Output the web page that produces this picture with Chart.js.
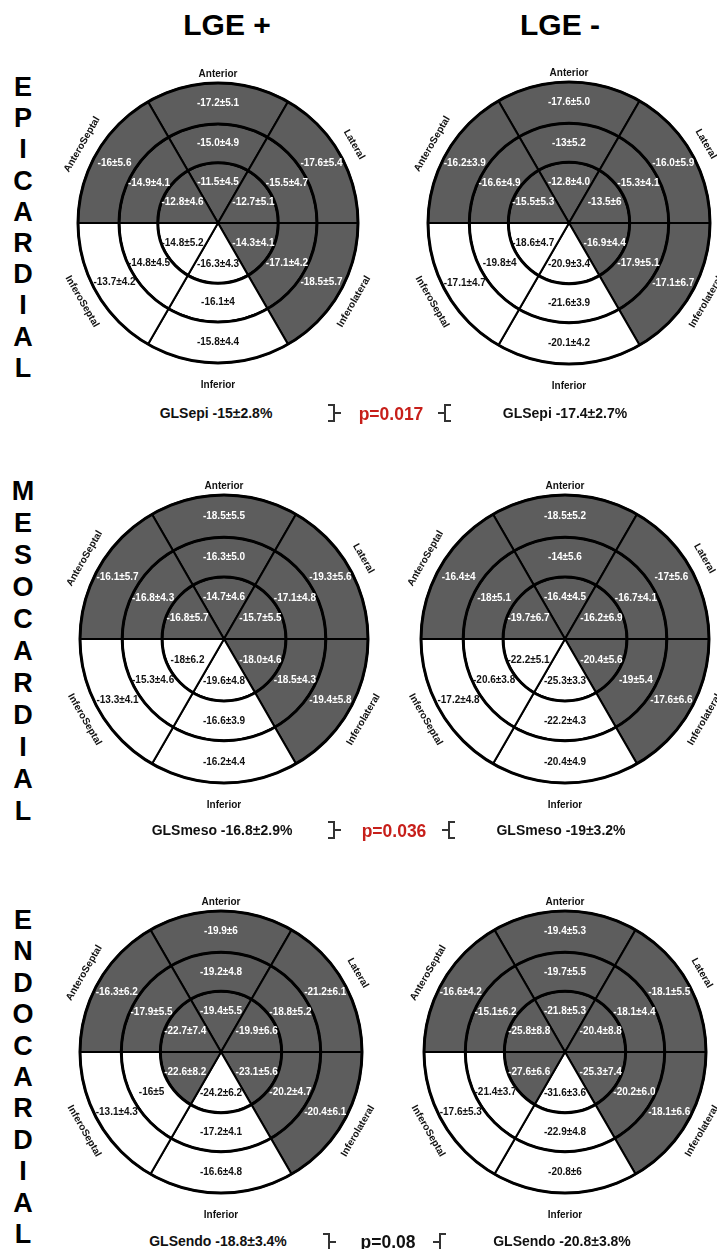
<!DOCTYPE html>
<html>
<head>
<meta charset="utf-8">
<script src="https://cdn.jsdelivr.net/npm/chart.js@4.4.0/dist/chart.umd.min.js"></script>
<style>
  body { margin: 0; background: #fff; width: 717px; height: 1249px; position: relative; overflow: hidden;
         font-family: "Liberation Sans", Arial, sans-serif; }
  .abs { position: absolute; white-space: nowrap; transform: translate(-50%, -50%); font-weight: bold; }
  .head { font-size: 30px; color: #000; }
  .letter { font-size: 27px; color: #000; }
  .gls { font-size: 14px; color: #111; }
  .pval { font-size: 17.5px; }
  canvas { position: absolute; }
  .br { position: absolute; border: 2px solid #333; width: 5px; height: 14px; }
  .tick { position: absolute; background: #333; width: 6px; height: 2px; }
</style>
</head>
<body>
<script>

// sectors, clockwise from the top
const sectors = ['Anterior', 'Lateral', 'Inferolateral', 'Inferior', 'InferoSeptal', 'AnteroSeptal'];
const segmentSize = [1, 1, 1, 1, 1, 1];

// 1 = grey segment, 0 = white segment
const greyRing = [1, 1, 1, 0, 0, 1];
const greyEndoInner = [1, 1, 1, 0, 1, 1];

// EPICARDIAL
const epiPlusOuter = ['-17.2±5.1', '-17.6±5.4', '-18.5±5.7', '-15.8±4.4', '-13.7±4.2', '-16±5.6'];
const epiPlusMid   = ['-15.0±4.9', '-15.5±4.7', '-17.1±4.2', '-16.1±4', '-14.8±4.5', '-14.9±4.1'];
const epiPlusInner = ['-11.5±4.5', '-12.7±5.1', '-14.3±4.1', '-16.3±4.3', '-14.8±5.2', '-12.8±4.6'];
const epiMinOuter  = ['-17.6±5.0', '-16.0±5.9', '-17.1±6.7', '-20.1±4.2', '-17.1±4.7', '-16.2±3.9'];
const epiMinMid    = ['-13±5.2', '-15.3±4.1', '-17.9±5.1', '-21.6±3.9', '-19.8±4', '-16.6±4.9'];
const epiMinInner  = ['-12.8±4.0', '-13.5±6', '-16.9±4.4', '-20.9±3.4', '-18.6±4.7', '-15.5±5.3'];

// MESOCARDIAL
const mesoPlusOuter = ['-18.5±5.5', '-19.3±5.6', '-19.4±5.8', '-16.2±4.4', '-13.3±4.1', '-16.1±5.7'];
const mesoPlusMid   = ['-16.3±5.0', '-17.1±4.8', '-18.5±4.3', '-16.6±3.9', '-15.3±4.6', '-16.8±4.3'];
const mesoPlusInner = ['-14.7±4.6', '-15.7±5.5', '-18.0±4.6', '-19.6±4.8', '-18±6.2', '-16.8±5.7'];
const mesoMinOuter  = ['-18.5±5.2', '-17±5.6', '-17.6±6.6', '-20.4±4.9', '-17.2±4.8', '-16.4±4'];
const mesoMinMid    = ['-14±5.6', '-16.7±4.1', '-19±5.4', '-22.2±4.3', '-20.6±3.8', '-18±5.1'];
const mesoMinInner  = ['-16.4±4.5', '-16.2±6.9', '-20.4±5.6', '-25.3±3.3', '-22.2±5.1', '-19.7±6.7'];

// ENDOCARDIAL
const endoPlusOuter = ['-19.9±6', '-21.2±6.1', '-20.4±6.1', '-16.6±4.8', '-13.1±4.3', '-16.3±6.2'];
const endoPlusMid   = ['-19.2±4.8', '-18.8±5.2', '-20.2±4.7', '-17.2±4.1', '-16±5', '-17.9±5.5'];
const endoPlusInner = ['-19.4±5.5', '-19.9±6.6', '-23.1±5.6', '-24.2±6.2', '-22.6±8.2', '-22.7±7.4'];
const endoMinOuter  = ['-19.4±5.3', '-18.1±5.5', '-18.1±6.6', '-20.8±6', '-17.6±5.3', '-16.6±4.2'];
const endoMinMid    = ['-19.7±5.5', '-18.1±4.4', '-20.2±6.0', '-22.9±4.8', '-21.4±3.7', '-15.1±6.2'];
const endoMinInner  = ['-21.8±5.3', '-20.4±8.8', '-25.3±7.4', '-31.6±3.6', '-27.6±6.6', '-25.8±8.8'];

const glsLabels = ['GLSepi -15±2.8%', 'GLSepi -17.4±2.7%', 'GLSmeso -16.8±2.9%', 'GLSmeso -19±3.2%',
                   'GLSendo -18.8±3.4%', 'GLSendo -20.8±3.8%'];
const pValues = ['p=0.017', 'p=0.036', 'p=0.08'];
const layerNames = ['EPICARDIAL', 'MESOCARDIAL', 'ENDOCARDIAL'];

const GREY = '#5d5d5d';

const bullseyeText = {
    id: 'bullseyeText',
    afterDatasetsDraw(chart) {
        const ctx = chart.ctx;
        const metas = chart.data.datasets.map((d, i) => chart.getDatasetMeta(i));
        const first = metas[0].data[0];
        const cx = first.x, cy = first.y;
        const R = first.outerRadius;

        ctx.save();
        // thick ring outlines
        ctx.strokeStyle = '#000';
        ctx.lineWidth = 3;
        metas.forEach(m => {
            ctx.beginPath();
            ctx.arc(cx, cy, m.data[0].outerRadius, 0, Math.PI * 2);
            ctx.stroke();
        });

        // segment values
        ctx.font = 'bold 10px "Liberation Sans", Arial, sans-serif';
        ctx.textAlign = 'center';
        ctx.textBaseline = 'middle';
        chart.data.datasets.forEach((ds, i) => {
            metas[i].data.forEach((arc, j) => {
                const mid = (arc.startAngle + arc.endAngle) / 2;
                const r = arc.innerRadius > 0 ? (arc.innerRadius + arc.outerRadius) / 2 : arc.outerRadius * 0.68;
                ctx.fillStyle = ds.shade[j] ? '#fff' : '#111';
                ctx.fillText(ds.valueLabels[j], cx + r * Math.cos(mid), cy + r * Math.sin(mid));
            });
        });

        // sector names round the outside
        ctx.fillStyle = '#111';
        metas[0].data.forEach((arc, j) => {
            const mid = (arc.startAngle + arc.endAngle) / 2;
            let r = R + 17, rot = 0;
            if (j === 0) r = R + 9;
            else if (j === 3) r = R + 22;
            else rot = Math.sin(mid) < 0 ? mid + Math.PI / 2 : mid - Math.PI / 2;
            ctx.save();
            ctx.translate(cx + r * Math.cos(mid), cy + r * Math.sin(mid));
            ctx.rotate(rot);
            ctx.fillText(chart.data.labels[j], 0, 0);
            ctx.restore();
        });
        ctx.restore();
    }
};

function makeBullseye(cx, cy, R, outer, mid, inner, innerShade) {
    const size = Math.round(2 * (R + 40));
    const canvas = document.createElement('canvas');
    canvas.width = size;
    canvas.height = size;
    canvas.style.left = (cx - size / 2) + 'px';
    canvas.style.top = (cy - size / 2) + 'px';
    document.body.appendChild(canvas);

    const r1 = R * 0.43, r2 = R * 0.707;
    const ring = (vals, shade, weight) => ({
        data: segmentSize,
        weight: weight,
        backgroundColor: shade.map(s => s ? GREY : '#fff'),
        borderColor: '#000',
        borderWidth: 2,
        valueLabels: vals,
        shade: shade,
    });

    new Chart(canvas, {
        type: 'doughnut',
        data: {
            labels: sectors,
            datasets: [
                ring(outer, greyRing, R - r2),
                ring(mid, greyRing, r2 - r1),
                ring(inner, innerShade, r1),
            ]
        },
        options: {
            responsive: false,
            animation: false,
            events: [],
            rotation: -30,
            cutout: 0,
            radius: R,
            layout: {padding: 0},
            plugins: {legend: {display: false}, tooltip: {enabled: false}},
        },
        plugins: [bullseyeText]
    });
}

function addText(cls, text, x, y, color) {
    const d = document.createElement('div');
    d.className = 'abs ' + cls;
    d.textContent = text;
    d.style.left = x + 'px';
    d.style.top = y + 'px';
    if (color) d.style.color = color;
    document.body.appendChild(d);
}

function addBrackets(xl, xr, y) {
    let b = document.createElement('div');
    b.className = 'br';
    b.style.borderLeft = 'none';
    b.style.left = xl + 'px';
    b.style.top = (y - 9) + 'px';
    document.body.appendChild(b);
    let t = document.createElement('div');
    t.className = 'tick';
    t.style.left = (xl + 7) + 'px';
    t.style.top = (y - 1) + 'px';
    document.body.appendChild(t);

    b = document.createElement('div');
    b.className = 'br';
    b.style.borderRight = 'none';
    b.style.left = (xr + 6) + 'px';
    b.style.top = (y - 9) + 'px';
    document.body.appendChild(b);
    t = document.createElement('div');
    t.className = 'tick';
    t.style.left = xr + 'px';
    t.style.top = (y - 1) + 'px';
    document.body.appendChild(t);
}

addText('head', 'LGE +', 227, 25);
addText('head', 'LGE -', 560, 25);

makeBullseye(218, 223, 140, epiPlusOuter, epiPlusMid, epiPlusInner, greyRing);
makeBullseye(569, 223, 141, epiMinOuter, epiMinMid, epiMinInner, greyRing);
makeBullseye(224, 639, 144, mesoPlusOuter, mesoPlusMid, mesoPlusInner, greyRing);
makeBullseye(565, 639, 144, mesoMinOuter, mesoMinMid, mesoMinInner, greyRing);
makeBullseye(221, 1052, 141, endoPlusOuter, endoPlusMid, endoPlusInner, greyEndoInner);
makeBullseye(565, 1052, 141, endoMinOuter, endoMinMid, endoMinInner, greyEndoInner);

// vertical layer names
const letterStart = [87, 491, 920];
const letterPitch = [31.2, 32, 31.4];
layerNames.forEach((name, k) => {
    name.split('').forEach((ch, i) => addText('letter', ch, 23, letterStart[k] + i * letterPitch[k]));
});

const glsX = [216, 565, 222, 561, 218, 562];
const rowY = [413, 830, 1241];
glsLabels.forEach((g, i) => addText('gls', g, glsX[i], rowY[Math.floor(i / 2)]));

const pX = [391, 394, 388];
const pColor = ['#c71f1a', '#c71f1a', '#111'];
pValues.forEach((p, i) => addText('pval', p, pX[i], rowY[i] + 1, pColor[i]));

addBrackets(328, 438, 413);
addBrackets(328, 442, 830);
addBrackets(323, 433, 1242);

</script>
</body>
</html>
